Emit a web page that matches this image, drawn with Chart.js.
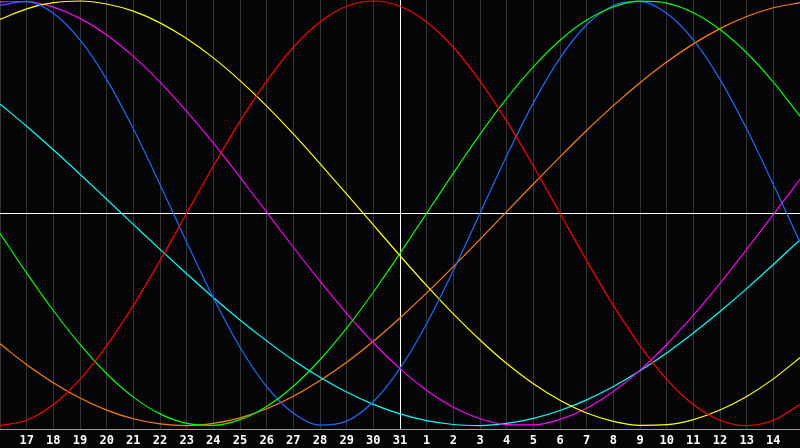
<!DOCTYPE html>
<html>
<head>
<meta charset="utf-8">
<script src="https://cdn.jsdelivr.net/npm/chart.js@4/dist/chart.umd.min.js"></script>
<style>
  html, body { margin: 0; padding: 0; background: #050508; }
  #wrap { width: 800px; height: 448px; }
</style>
</head>
<body>
<div id="wrap"><canvas id="bio"></canvas></div>
<script>
// day labels, 16 (left edge) .. 15 (right edge)
const days = [16, 17, 18, 19, 20, 21, 22, 23, 24, 25, 26, 27, 28, 29, 30, 31,
  1, 2, 3, 4, 5, 6, 7, 8, 9, 10, 11, 12, 13, 14, 15];
const todayIndex = 15;

// values, -100..100
const red = [-100, -97.5, -90.1, -78.2, -62.3, -43.4, -22.3, 0, 22.3, 43.4, 62.3, 78.2, 90.1, 97.5, 100,
  97.5, 90.1, 78.2, 62.3, 43.4, 22.3, 0, -22.3, -43.4, -62.3, -78.2, -90.1, -97.5, -100, -97.5, -90.1];
const green = [-9.5, -28.2, -45.8, -61.8, -75.6, -86.6, -94.5, -99.0, -99.9, -97.2, -91.0, -81.5, -69.0, -54.1, -37.2,
  -18.9, 0, 18.9, 37.2, 54.1, 69.0, 81.5, 91.0, 97.2, 99.9, 99.0, 94.5, 86.6, 75.6, 61.8, 45.8];
const blue = [97.9, 99.8, 94.2, 81.7, 63.1, 39.8, 13.6, -13.6, -39.8, -63.1, -81.7, -94.2, -99.8, -97.9, -88.8,
  -73.1, -52.0, -27.0, 0, 27.0, 52.0, 73.1, 88.8, 97.9, 99.8, 94.2, 81.7, 63.1, 39.8, 13.6, -13.6];
const yellow = [91.3, 96.3, 99.2, 100, 98.6, 95.2, 89.7, 82.3, 73.2, 62.5, 50.5, 37.4, 23.4, 9.0, -5.5,
  -20.0, -34.1, -47.4, -59.7, -70.8, -80.3, -88.1, -94.1, -98.0, -99.9, -99.6, -97.2, -92.7, -86.3, -78.0, -68.0];
const magenta = [99.6, 99.7, 97.1, 91.8, 84.0, 73.9, 61.8, 48.0, 33.0, 17.0, 0.5, -16.0, -32.0, -47.1, -61.0,
  -73.2, -83.4, -91.4, -96.8, -99.6, -99.7, -97.1, -91.8, -84.0, -73.9, -61.8, -48.0, -33.0, -17.0, -0.5, 16.0];
const cyan = [51.5, 41.0, 29.9, 18.4, 6.6, -5.2, -17.0, -28.5, -39.7, -50.3, -60.1, -69.2, -77.2, -84.2, -90.0,
  -94.5, -97.7, -99.5, -100, -99.0, -96.6, -92.9, -87.9, -81.6, -74.2, -65.8, -56.4, -46.3, -35.5, -24.1, -12.5];
const orange = [-61.5, -71.3, -79.8, -87.0, -92.7, -96.8, -99.2, -100, -99.0, -96.4, -92.1, -86.2, -78.8, -70.2, -60.3,
  -49.3, -37.5, -25.1, -12.3, 0.8, 13.8, 26.6, 39.0, 50.7, 61.5, 71.3, 79.8, 87.0, 92.7, 96.8, 99.2];

function line(data, color) {
  return {
    data: data,
    borderColor: color,
    borderWidth: 1.2,
    pointRadius: 0,
    cubicInterpolationMode: 'monotone',
    fill: false
  };
}

new Chart(document.getElementById('bio'), {
  type: 'line',
  data: {
    labels: days,
    datasets: [
      line(red, '#ff0000'),
      line(green, '#00ff00'),
      line(blue, '#1a6cff'),
      line(yellow, '#ffff00'),
      line(magenta, '#ff00ff'),
      line(cyan, '#00ffff'),
      line(orange, '#ff8000')
    ]
  },
  options: {
    responsive: true,
    maintainAspectRatio: false,
    animation: false,
    layout: { padding: { left: 0, right: 0, top: 0, bottom: -4 } },
    plugins: {
      legend: { display: false },
      tooltip: { enabled: false }
    },
    scales: {
      x: {
        offset: false,
        afterFit: (scale) => { scale.paddingLeft = 0; scale.paddingRight = 0; },
        grid: {
          drawTicks: false,
          color: (ctx) => ctx.index === todayIndex ? '#ffffff' : '#333333'
        },
        border: { display: true, color: '#9a9a9a' },
        ticks: {
          autoSkip: false,
          maxRotation: 0,
          padding: 4,
          color: '#ffffff',
          font: { family: 'DejaVu Sans Mono', size: 12, weight: 'bold' },
          callback: (v, i) => (i === 0 || i === days.length - 1) ? '' : days[i]
        }
      },
      y: {
        min: -101.9,
        max: 100.47,
        afterFit: (scale) => { scale.width = 0; },
        afterBuildTicks: (scale) => { scale.ticks = [{ value: 0 }]; },
        grid: { drawTicks: false, color: '#ffffff' },
        border: { display: false },
        ticks: { display: false }
      }
    }
  }
});
</script>
</body>
</html>
